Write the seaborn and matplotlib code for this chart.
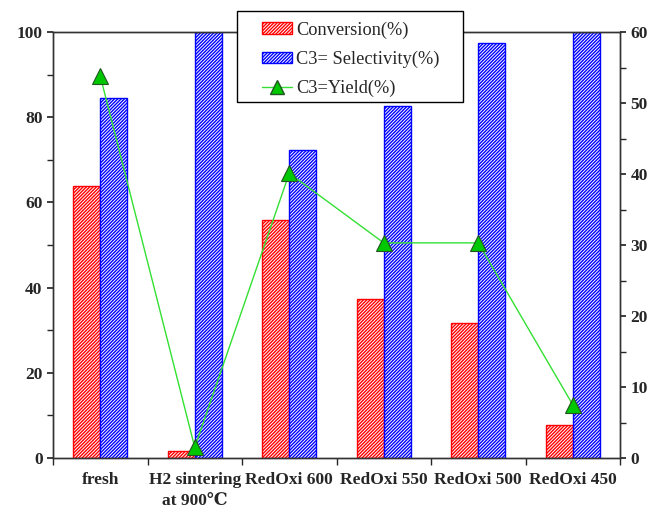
import numpy as np
import pandas as pd
import matplotlib
matplotlib.use("Agg")
import matplotlib.pyplot as plt
import seaborn as sns
from matplotlib.patches import Patch, Rectangle
from matplotlib.lines import Line2D
from matplotlib.ticker import MultipleLocator

categories = ["fresh", "H2 sintering\nat 900\u2103", "RedOxi 600", "RedOxi 550", "RedOxi 500", "RedOxi 450"]
conversion = [63.8, 1.6, 55.9, 37.3, 31.7, 7.7]
selectivity = [84.5, 100.0, 72.3, 82.6, 97.4, 100.0]
yield_c3 = [53.8, 1.5, 40.1, 30.3, 30.3, 7.5]
series_names = ["Conversion(%)", "C3= Selectivity(%)", "C3=Yield(%)"]

sns.set_theme(style="ticks")
plt.rcParams["font.family"] = ["Liberation Serif", "DejaVu Serif", "DejaVu Sans"]
plt.rcParams["hatch.linewidth"] = 1.0

df = pd.DataFrame({
    "cat": categories * 2,
    "value": conversion + selectivity,
    "series": [series_names[0]] * 6 + [series_names[1]] * 6,
})

W, H = 671, 511
fig = plt.figure(figsize=(W / 100, H / 100), dpi=100)
ax = fig.add_axes([53 / W, 1 - 458 / H, (620 - 53) / W, (458 - 32) / H])

colors = ["red", "blue"]
HATCH = "/" * 10
sns.barplot(data=df, x="cat", y="value", hue="series", order=categories,
            hue_order=series_names[:2], palette=["white", "white"], width=0.57,
            dodge=True, gap=0, ax=ax, legend=False, saturation=1)
for i, cont in enumerate(ax.containers):
    for p in cont:
        p.set_hatch(HATCH)
        p.set_edgecolor(colors[i])
        p.set_facecolor("white")
        p.set_linewidth(1.0)

ax.set_ylim(0, 100)
ax.set_xlim(-0.5, 5.5)
ax.yaxis.set_major_locator(MultipleLocator(20))
ax.yaxis.set_minor_locator(MultipleLocator(10))
ax.set_xticks(np.arange(6))
ax.set_xticklabels(categories, linespacing=1.45)
ax.set_xticks(np.arange(-0.5, 6, 1), minor=True)
ax.tick_params(axis="x", which="major", length=0, pad=10)
ax.tick_params(axis="x", which="minor", length=5, direction="out")
ax.tick_params(axis="y", which="both", length=4, direction="out")
ax.set_xlabel("")
ax.set_ylabel("")
for lab in ax.get_xticklabels() + ax.get_yticklabels():
    lab.set_fontweight("bold")
    lab.set_fontsize(12.5)

ax2 = ax.twinx()
sns.lineplot(x=categories, y=yield_c3, sort=False, ax=ax2, color="#33e033", lw=1.0,
             marker="^", markersize=11, markerfacecolor="#00c800",
             markeredgecolor="#225522", markeredgewidth=0.8)
ax2.set_ylim(0, 60)
ax2.yaxis.set_major_locator(MultipleLocator(10))
ax2.yaxis.set_minor_locator(MultipleLocator(5))
ax2.tick_params(axis="y", which="both", length=4, direction="out")
for lab in ax2.get_yticklabels():
    lab.set_fontweight("bold")
    lab.set_fontsize(12.5)
ax2.set_ylabel("")

for a in (ax, ax2):
    for s in a.spines.values():
        s.set_color("#333333")
        s.set_linewidth(1.0)

handles = [
    Patch(facecolor="white", edgecolor="red", hatch=HATCH, label=series_names[0]),
    Patch(facecolor="white", edgecolor="blue", hatch=HATCH, label=series_names[1]),
    Line2D([], [], color="#33e033", lw=1.0, marker="^", markersize=10,
           markerfacecolor="#00c800", markeredgecolor="#225522", label=series_names[2]),
]
# legend frame
fig.patches.append(Rectangle((237 / W, 1 - 102 / H), (463 - 237) / W, (102 - 11) / H,
                             transform=fig.transFigure, facecolor="white",
                             edgecolor="black", linewidth=1.0, zorder=5))
leg = fig.legend(handles=handles, loc="upper left", bbox_to_anchor=(262 / W, 1 - 21.5 / H),
                 frameon=False, fontsize=13.2, handlelength=1.65, handleheight=0.6,
                 labelspacing=0.65, borderpad=0, handletextpad=0.2, borderaxespad=0)
leg.set_zorder(6)

fig.savefig("out.png", dpi=100)
